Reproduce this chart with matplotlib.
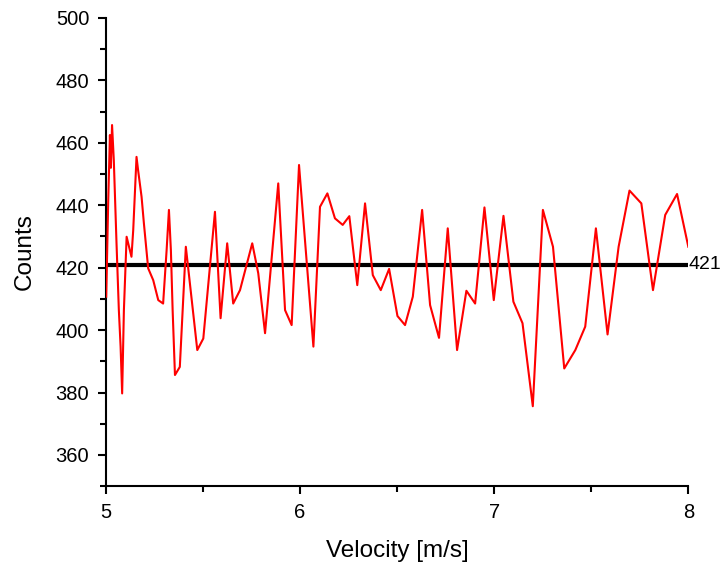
import matplotlib
matplotlib.use("Agg")
import matplotlib.pyplot as plt
from matplotlib.ticker import MultipleLocator

plt.rcParams['font.family'] = ['Liberation Sans', 'DejaVu Sans']

# pixel-read positions converted to velocity values
px = [106.3, 108.3, 110, 111, 112.3, 114, 116.7, 119, 120.7, 122.3, 124, 126.7,
      131.7, 133.3, 136.7, 138.3, 141.7, 144, 148.3, 153.3, 158.3, 163.3, 166.7,
      169, 171, 172.7, 175, 180, 186, 197.3, 203.3, 215, 220.7, 227.3, 233.3,
      240, 252.3, 258.3, 265, 278.3, 285, 291.7, 299, 313.3, 320, 327.3, 335,
      342.7, 349.3, 357.3, 365, 372.7, 380.7, 389, 397.3, 405, 412.7, 422, 430,
      439, 447.7, 457, 466.3, 475, 484.3, 493.7, 503.3, 513.3, 522.3, 532.7,
      542.7, 552.7, 564, 575, 585, 595.7, 607.3, 618.3, 629.3, 641, 652.7, 665,
      676.7, 688]
velocity = [round(5 + (p - 106) / 194.0, 3) for p in px]
counts = [410.7, 440.6, 462.5, 452, 465.7, 454.5, 427.8, 406.4, 394.7, 379.7,
          406.4, 429.9, 423.5, 432, 455.5, 451.3, 442.7, 434.2, 419.8, 416,
          409.6, 408.5, 425.6, 438.5, 425.6, 406.4, 385.6, 388.2, 426.7, 393.6,
          397.3, 437.9, 403.8, 427.8, 408.5, 412.8, 427.8, 418.2, 399, 447,
          406.4, 401.6, 452.9, 394.7, 439.5, 443.8, 435.8, 433.7, 436.5, 414.4,
          440.6, 417.6, 412.8, 419.6, 404.5, 401.6, 410.7, 438.5, 408, 397.5,
          432.6, 393.6, 412.6, 408.5, 439.3, 409.6, 436.6, 409.1, 402.2, 375.6,
          438.5, 426.7, 387.7, 393.6, 401.1, 432.6, 398.6, 426.7, 444.7, 440.6,
          412.8, 436.9, 443.6, 426.7]
mean_level = 421
mean_label = "421"

fig = plt.figure(figsize=(7.2, 5.62), dpi=100)
ax = fig.add_axes([0.147, 0.135, 0.809, 0.833])

ax.plot(velocity, counts, color='red', linewidth=1.5, zorder=3)
ax.plot([5, 8], [mean_level, mean_level], color='black', linewidth=3, zorder=2,
        solid_capstyle='butt')
ax.text(8.0, mean_level, mean_label, fontsize=14, va='center', ha='left',
        clip_on=False)

ax.set_xlim(5, 8)
ax.set_ylim(350, 500)
ax.xaxis.set_major_locator(MultipleLocator(1))
ax.xaxis.set_minor_locator(MultipleLocator(0.5))
ax.yaxis.set_major_locator(MultipleLocator(20))
ax.yaxis.set_minor_locator(MultipleLocator(10))
ax.set_yticks(range(360, 501, 20))

for s in ['top', 'right']:
    ax.spines[s].set_visible(False)
for s in ['left', 'bottom']:
    ax.spines[s].set_linewidth(1.5)

ax.tick_params(axis='both', which='major', direction='out', length=6, width=1.5,
               labelsize=14.5, pad=6)
ax.tick_params(axis='both', which='minor', direction='out', length=4, width=1.5)

ax.set_xlabel('Velocity [m/s]', fontsize=17.5, labelpad=13)
ax.set_ylabel('Counts', fontsize=17.5, labelpad=14)

fig.savefig('out.png', dpi=100)
